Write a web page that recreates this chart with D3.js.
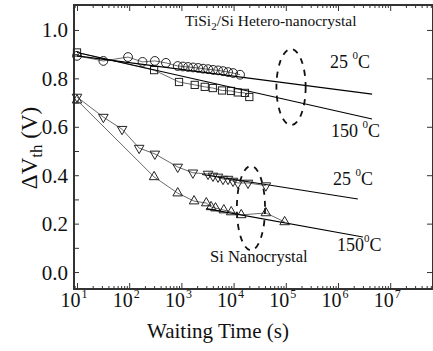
<!DOCTYPE html>
<html>
<head>
<meta charset="utf-8">
<script src="https://cdn.jsdelivr.net/npm/d3@7"></script>
<style>
  body { margin: 0; background: #fff; }
  text { font-family: "Liberation Serif", "Times New Roman", serif; fill: #111; }
</style>
</head>
<body>
<svg id="chart" width="433" height="351"></svg>
<script>
// Data (time in s, dVth in V)
const heteroRoomTime = [10, 32, 95, 180, 310, 505, 850, 1070, 1340, 1670, 2100, 2600, 3250, 4050, 5050, 6300, 7850, 9800, 13300];
const heteroRoomVth  = [0.893, 0.872, 0.888, 0.868, 0.872, 0.864, 0.851, 0.849, 0.847, 0.845, 0.843, 0.840, 0.838, 0.835, 0.833, 0.830, 0.826, 0.822, 0.815];

const heteroHotTime = [10, 300, 900, 1800, 2800, 4000, 6000, 8900, 12000, 16500, 20000];
const heteroHotVth  = [0.907, 0.834, 0.785, 0.773, 0.765, 0.760, 0.750, 0.748, 0.742, 0.740, 0.723];

const siRoomTime = [10, 32, 73, 155, 310, 850, 1660, 3240, 4030, 5030, 6270, 7820, 9750, 12100, 18900, 41500];
const siRoomVth  = [0.723, 0.640, 0.590, 0.512, 0.488, 0.434, 0.410, 0.405, 0.397, 0.393, 0.384, 0.384, 0.376, 0.368, 0.368, 0.357];

const siHotTime = [10, 300, 850, 1750, 3000, 3700, 4500, 6500, 9000, 14000, 41500, 95000];
const siHotVth  = [0.710, 0.393, 0.326, 0.293, 0.285, 0.269, 0.264, 0.256, 0.248, 0.236, 0.244, 0.207];

// Straight fits (log time): [t1, v1, t2, v2]
const fitHeteroRoom = [10, 0.893, 4.5e6, 0.735];
const fitHeteroHot  = [10, 0.907, 4.5e6, 0.632];
const fitSiRoom     = [2500, 0.403, 2.4e6, 0.302];
const fitSiHot      = [3000, 0.262, 3.0e6, 0.145];

// Dashed ellipses: [centre time, centre V, half width in decades, half height in V]
const ellipseHetero = [1.26e5, 0.764, 0.28, 0.157];
const ellipseSi     = [2.15e4, 0.264, 0.27, 0.174];

const yTicks = [0.0, 0.2, 0.4, 0.6, 0.8, 1.0];
const xDecades = [1, 2, 3, 4, 5, 6, 7];

const svg = d3.select("#chart"),
    width = +svg.attr("width"),
    height = +svg.attr("height");

const plotLeft = 74, plotRight = 433, plotTop = 5, plotBottom = 289;

const x = d3.scaleLog()
    .domain([Math.pow(10, 0.9425), Math.pow(10, 7.82)])
    .range([plotLeft, plotRight]);
const y = d3.scaleLinear()
    .domain([-0.07, 1.103])
    .range([plotBottom, plotTop]);

// minor log ticks
let minorX = [];
for (let k = 0; k <= 7; k++) {
    for (let m = 2; m <= 9; m++) {
        let v = m * Math.pow(10, k);
        if (v > x.domain()[0] && v < x.domain()[1]) minorX.push(v);
    }
}
const majorX = xDecades.map(d => Math.pow(10, d));

// Axes (ticks pointing inward)
function tickStyle(g) {
    g.select(".domain").remove();
    g.selectAll("line").attr("stroke", "#333").attr("stroke-width", 1);
}
svg.append("g").attr("transform", `translate(0,${plotBottom})`)
    .call(d3.axisBottom(x).tickValues(minorX).tickSize(-3).tickFormat("")).call(tickStyle);
svg.append("g").attr("transform", `translate(0,${plotBottom})`)
    .call(d3.axisBottom(x).tickValues(majorX).tickSize(-6).tickFormat("")).call(tickStyle);
svg.append("g").attr("transform", `translate(0,${plotTop})`)
    .call(d3.axisTop(x).tickValues(minorX).tickSize(-3).tickFormat("")).call(tickStyle);
svg.append("g").attr("transform", `translate(0,${plotTop})`)
    .call(d3.axisTop(x).tickValues(majorX).tickSize(-6).tickFormat("")).call(tickStyle);
svg.append("g").attr("transform", `translate(${plotLeft},0)`)
    .call(d3.axisLeft(y).tickValues(d3.range(0, 1.05, 0.1)).tickSize(-5).tickFormat("")).call(tickStyle);
svg.append("g").attr("transform", `translate(${plotRight - 1},0)`)
    .call(d3.axisRight(y).tickValues(yTicks).tickSize(-5).tickFormat("")).call(tickStyle);

// Frame
svg.append("rect")
    .attr("x", plotLeft).attr("y", plotTop)
    .attr("width", plotRight - plotLeft).attr("height", plotBottom - plotTop)
    .attr("fill", "none").attr("stroke", "#333").attr("stroke-width", 2);

// Tick labels
svg.append("g").selectAll("text")
    .data(yTicks)
    .enter().append("text")
    .attr("x", plotLeft - 6)
    .attr("y", d => y(d))
    .attr("dy", "0.36em")
    .attr("text-anchor", "end")
    .attr("font-size", 21)
    .text(d => d.toFixed(1));

let xl = svg.append("g").selectAll("text")
    .data(xDecades)
    .enter().append("text")
    .attr("x", d => x(Math.pow(10, d)) - 3)
    .attr("y", 307)
    .attr("text-anchor", "middle")
    .attr("font-size", 20);
xl.append("tspan").text("10");
xl.append("tspan").attr("font-size", 12).attr("dy", -9).attr("dx", 1).text(d => d);

// Axis titles
let yl = svg.append("text")
    .attr("transform", "translate(37,148) rotate(-90)")
    .attr("text-anchor", "middle")
    .attr("font-size", 23);
yl.append("tspan").text("ΔV");
yl.append("tspan").attr("font-size", 17).attr("dy", 5).text("th");
yl.append("tspan").attr("dy", -5).text(" (V)");

svg.append("text")
    .attr("x", 218).attr("y", 338)
    .attr("text-anchor", "middle")
    .attr("font-size", 21)
    .text("Waiting Time (s)");

// Series
const line = d3.line().x(d => x(d[0])).y(d => y(d[1]));
const series = [
    {t: heteroRoomTime, v: heteroRoomVth, shape: "circle"},
    {t: heteroHotTime, v: heteroHotVth, shape: "square"},
    {t: siRoomTime, v: siRoomVth, shape: "down"},
    {t: siHotTime, v: siHotVth, shape: "up"}
];

series.forEach(function(s) {
    let pts = s.t.map((t, i) => [t, s.v[i]]);
    svg.append("path")
        .attr("d", line(pts))
        .attr("fill", "none")
        .attr("stroke", "#444")
        .attr("stroke-width", 0.8);

    let g = svg.append("g").attr("fill", "none").attr("stroke", "#222").attr("stroke-width", 1);
    if (s.shape === "circle") {
        g.selectAll("circle").data(pts).enter().append("circle")
            .attr("cx", d => x(d[0])).attr("cy", d => y(d[1])).attr("r", 4.4);
    } else if (s.shape === "square") {
        g.selectAll("rect").data(pts).enter().append("rect")
            .attr("x", d => x(d[0]) - 3.6).attr("y", d => y(d[1]) - 3.6)
            .attr("width", 7.2).attr("height", 7.2);
    } else {
        let sym = d3.symbol().type(d3.symbolTriangle).size(40);
        let rot = s.shape === "down" ? 180 : 0;
        g.selectAll("path").data(pts).enter().append("path")
            .attr("d", sym)
            .attr("transform", d => `translate(${x(d[0])},${y(d[1])}) rotate(${rot})`);
    }
});

// Fit lines
[fitHeteroRoom, fitHeteroHot, fitSiRoom, fitSiHot].forEach(function(f) {
    svg.append("line")
        .attr("x1", x(f[0])).attr("y1", y(f[1]))
        .attr("x2", x(f[2])).attr("y2", y(f[3]))
        .attr("stroke", "#000").attr("stroke-width", 1.1);
});

// Dashed ellipses
[ellipseHetero, ellipseSi].forEach(function(e) {
    let cx = x(e[0]);
    svg.append("ellipse")
        .attr("cx", cx).attr("cy", y(e[1]))
        .attr("rx", x(e[0] * Math.pow(10, e[2])) - cx)
        .attr("ry", y(0) - y(e[3]))
        .attr("fill", "none").attr("stroke", "#111")
        .attr("stroke-width", 1.8).attr("stroke-dasharray", "6,6");
});

// Annotations
let title = svg.append("text").attr("x", 185).attr("y", 26).attr("font-size", 15.5);
title.append("tspan").text("TiSi");
title.append("tspan").attr("font-size", 11).attr("dy", 4).text("2");
title.append("tspan").attr("dy", -4).text("/Si Hetero-nanocrystal");

function tempLabel(px, py, num, gap) {
    let t = svg.append("text").attr("x", px).attr("y", py).attr("font-size", 18);
    t.append("tspan").text(num + (gap ? " " : ""));
    t.append("tspan").attr("font-size", 11).attr("dy", -9).text("0");
    t.append("tspan").attr("dy", 9).text("C");
}
tempLabel(330, 68, "25", true);
tempLabel(331, 137, "150", true);
tempLabel(333, 185, "25", true);
tempLabel(337, 251, "150", false);

svg.append("text").attr("x", 210).attr("y", 262).attr("font-size", 16.5).text("Si Nanocrystal");
</script>
</body>
</html>
